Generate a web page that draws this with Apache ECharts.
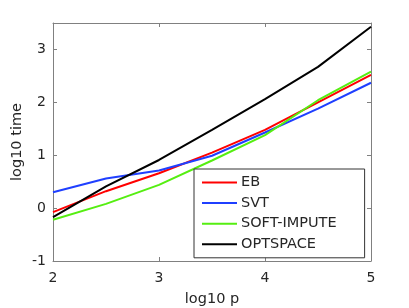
<!DOCTYPE html>
<html><head><meta charset="utf-8">
<script src="https://cdn.jsdelivr.net/npm/echarts@6/dist/echarts.min.js"></script>
<style>html,body{margin:0;padding:0;background:#fff}#c{width:409px;height:308px}</style>
</head><body><div id="c"></div>
<script>
const xVals = [2, 2.5, 3, 3.5, 4, 4.5, 5];
const ebVals = [-0.075, 0.32, 0.66, 1.05, 1.48, 2.0, 2.52];
const svtVals = [0.30, 0.56, 0.71, 0.99, 1.43, 1.88, 2.37];
const softVals = [-0.22, 0.08, 0.44, 0.90, 1.38, 2.04, 2.58];
const optVals = [-0.17, 0.41, 0.91, 1.48, 2.06, 2.67, 3.43];
const seriesNames = ['EB', 'SVT', 'SOFT-IMPUTE', 'OPTSPACE'];
const seriesColors = ['#ff0000', '#1f3fff', '#55ee11', '#000000'];
const xTicks = [2, 3, 4, 5];
const yTicks = [-1, 0, 1, 2, 3];

const FONT = '"DejaVu Sans", sans-serif';
const TXT = '#262626';
const AX = '#808080';
const allVals = [ebVals, svtVals, softVals, optVals];
const chart = echarts.init(document.getElementById('c'), null, {renderer: 'canvas'});
const tickFmt = (arr) => (v) => (arr.indexOf(Math.round(v * 1000) / 1000) >= 0 ? String(v) : '');
const axisBase = {
  type: 'value',
  axisLine: {show: true, onZero: false, lineStyle: {color: AX, width: 1}},
  axisTick: {show: true, inside: true, length: 4, lineStyle: {color: AX}},
  splitLine: {show: false}
};
chart.setOption({
  animation: false,
  grid: {left: 53, right: 38, top: 23, bottom: 47, show: false, containLabel: false, outerBoundsMode: 'none'},
  xAxis: [
    Object.assign({}, axisBase, {min: 2, max: 5, interval: 1, position: 'bottom',
      name: 'log10 p', nameLocation: 'middle', nameGap: 31,
      nameTextStyle: {fontFamily: FONT, fontSize: 14.5, color: TXT},
      axisLabel: {fontFamily: FONT, fontSize: 14, color: TXT, margin: 10, formatter: tickFmt(xTicks)}}),
    Object.assign({}, axisBase, {min: 2, max: 5, interval: 1, position: 'top', axisLabel: {show: false}})
  ],
  yAxis: [
    Object.assign({}, axisBase, {min: -1, max: 3.5, interval: 1, position: 'left',
      name: 'log10 time', nameLocation: 'middle', nameGap: 28, nameRotate: 90, nameMoveOverlap: false,
      nameTextStyle: {fontFamily: FONT, fontSize: 14.5, color: TXT},
      axisLabel: {fontFamily: FONT, fontSize: 14, color: TXT, margin: 7, formatter: tickFmt(yTicks)}}),
    Object.assign({}, axisBase, {min: -1, max: 3.5, interval: 1, position: 'right', axisLabel: {show: false}})
  ],
  legend: {
    orient: 'vertical', left: 194, top: 169,
    padding: [6, 28, 6, 8],
    itemWidth: 35, itemHeight: 14, itemGap: 5.6,
    borderColor: '#333', borderWidth: 1, backgroundColor: '#fff',
    icon: 'path://M0,6 L35,6 L35,8 L0,8 Z',
    textStyle: {fontFamily: FONT, fontSize: 14.5, color: TXT, padding: [0, 0, 0, -1]},
    data: seriesNames
  },
  series: seriesNames.map((n, i) => ({
    name: n, type: 'line', showSymbol: false, symbol: 'none',
    color: seriesColors[i],
    lineStyle: {width: 2, color: seriesColors[i]},
    data: xVals.map((x, j) => [x, allVals[i][j]])
  }))
});
</script></body></html>
